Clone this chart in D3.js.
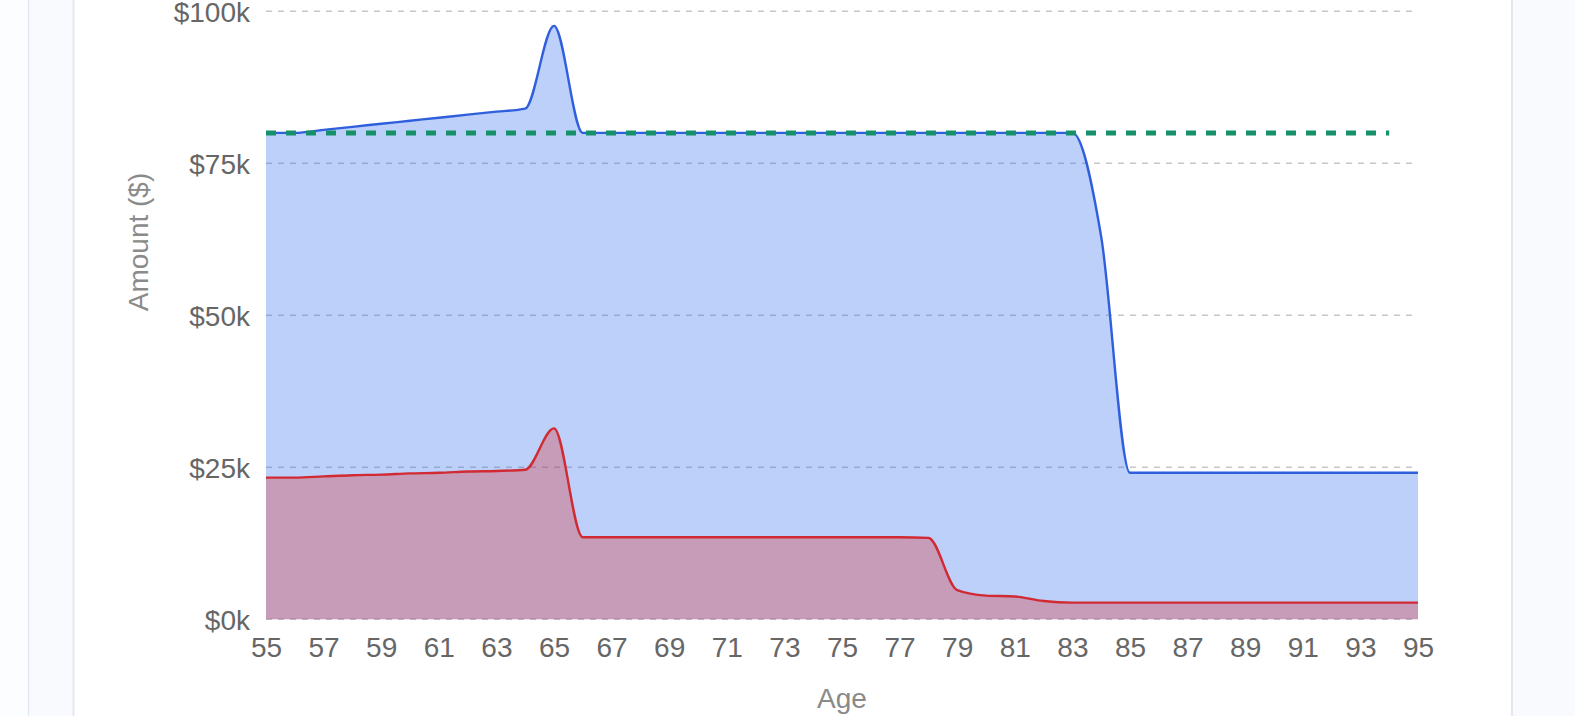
<!DOCTYPE html>
<html>
<head>
<meta charset="utf-8">
<script src="https://cdn.jsdelivr.net/npm/d3@7/dist/d3.min.js"></script>
<style>
  html, body { margin: 0; padding: 0; background: #fcfdff; overflow: hidden; }
  svg { display: block; font-family: "Helvetica Neue", Helvetica, Arial, "Liberation Sans", sans-serif; }
</style>
</head>
<body>
<svg id="chart" width="1575" height="716"></svg>
<script>
// ---- Data ----
const ages = [55,56,57,58,59,60,61,62,63,64,65,66,67,68,69,70,71,72,73,74,75,
              76,77,78,79,80,81,82,83,84,85,86,87,88,89,90,91,92,93,94,95];

const totalIncome = [80000,80000,80500,81000,81500,82000,82500,83000,83500,84000,97600,80000,
                     80000,80000,80000,80000,80000,80000,80000,80000,80000,80000,80000,80000,
                     80000,80000,80000,80000,80000,62900,
                     24100,24100,24100,24100,24100,24100,24100,24100,24100,24100,24100];

const taxesPaid = [23300,23300,23500,23700,23800,24000,24100,24300,24400,24600,31400,13500,
                   13500,13500,13500,13500,13500,13500,13500,13500,13500,13500,13500,13400,
                   4800,3900,3750,3000,
                   2750,2750,2750,2750,2750,2750,2750,2750,2750,2750,2750,2750,2750];

const targetIncome = [80000,80000,80000,80000,80000,80000,80000,80000,80000,80000,80000,80000,
                      80000,80000,80000,80000,80000,80000,80000,80000,80000,80000,80000,80000,
                      80000,80000,80000,80000,80000,80000,80000,80000,80000,80000,80000,80000,
                      80000,80000,80000,80000,null];

const yTicks = [0, 25000, 50000, 75000, 100000];
const xTickLabels = [55,57,59,61,63,65,67,69,71,73,75,77,79,81,83,85,87,89,91,93,95];
const yTitle = "Amount ($)";
const xTitle = "Age";

// ---- Layout ----
const svg = d3.select("#chart");
const W = 1575, H = 716;
const plot = { left: 266, right: 1418, top: 11.3, bottom: 619.3 };
const FS = 28;

// page frame
svg.append("rect").attr("x", 0).attr("y", 0).attr("width", W).attr("height", H).attr("fill", "#fcfdff");
svg.append("rect").attr("x", 28.5).attr("y", -2).attr("width", W).attr("height", H + 4)
   .attr("fill", "#f8fafd").attr("stroke", "#e3e7ee").attr("stroke-width", 1.3);
svg.append("rect").attr("x", 73.5).attr("y", -4).attr("width", 1512 - 73.5).attr("height", H + 8)
   .attr("fill", "#ffffff").attr("stroke", "#e3e7ee").attr("stroke-width", 2);

const x = d3.scaleLinear().domain([55, 95]).range([plot.left, plot.right]);
const y = d3.scaleLinear().domain([0, 100000]).range([plot.bottom, plot.top]);

const data = ages.map((a, i) => ({ age: a, total: totalIncome[i], tax: taxesPaid[i], target: targetIncome[i] }));

// grid
svg.append("g").selectAll("line").data(yTicks).join("line")
  .attr("x1", plot.left).attr("x2", plot.right)
  .attr("y1", d => y(d)).attr("y2", d => y(d))
  .attr("stroke", "#c8c8c8").attr("stroke-width", 1.4)
  .attr("stroke-dasharray", "6,6");

// areas & lines
const curve = d3.curveMonotoneX;
const areaTotal = d3.area().x(d => x(d.age)).y0(y(0)).y1(d => y(d.total)).curve(curve);
const lineTotal = d3.line().x(d => x(d.age)).y(d => y(d.total)).curve(curve);
const areaTax = d3.area().x(d => x(d.age)).y0(y(0)).y1(d => y(d.tax)).curve(curve);
const lineTax = d3.line().x(d => x(d.age)).y(d => y(d.tax)).curve(curve);
const lineTarget = d3.line().defined(d => d.target != null).x(d => x(d.age)).y(d => y(d.target));

svg.append("path").datum(data).attr("d", areaTotal).attr("fill", "#2563eb").attr("fill-opacity", 0.3);
svg.append("path").datum(data).attr("d", lineTotal).attr("fill", "none").attr("stroke", "#2f5fdc").attr("stroke-width", 2.4);
svg.append("path").datum(data).attr("d", areaTax).attr("fill", "#dc2626").attr("fill-opacity", 0.3);
svg.append("path").datum(data).attr("d", lineTax).attr("fill", "none").attr("stroke", "#d12a32").attr("stroke-width", 2.4);
svg.append("path").datum(data).attr("d", lineTarget).attr("fill", "none")
   .attr("stroke", "#16906b").attr("stroke-width", 5).attr("stroke-dasharray", "10,10");

// axes
const yAxis = d3.axisLeft(y).tickValues(yTicks).tickSize(0).tickPadding(16)
  .tickFormat(d => "$" + (d / 1000) + "k");
const gy = svg.append("g").attr("transform", `translate(${plot.left},0)`).call(yAxis);
gy.select(".domain").remove();
gy.selectAll("text").attr("font-size", FS).attr("fill", "#666666").attr("dy", "0.36em").style("font-family", "inherit");

const xAxis = d3.axisBottom(x).tickValues(xTickLabels).tickSize(0).tickPadding(18)
  .tickFormat(d3.format("d"));
const gx = svg.append("g").attr("transform", `translate(0,${plot.bottom})`).call(xAxis);
gx.select(".domain").remove();
gx.selectAll("text").attr("font-size", FS).attr("fill", "#666666").style("font-family", "inherit");

// axis titles
svg.append("text").attr("transform", "translate(148,242) rotate(-90)")
  .attr("text-anchor", "middle").attr("font-size", FS).attr("fill", "#8a8a8a").text(yTitle);
svg.append("text").attr("x", (plot.left + plot.right) / 2).attr("y", 708)
  .attr("text-anchor", "middle").attr("font-size", FS).attr("fill", "#8a8a8a").text(xTitle);
</script>
</body>
</html>
